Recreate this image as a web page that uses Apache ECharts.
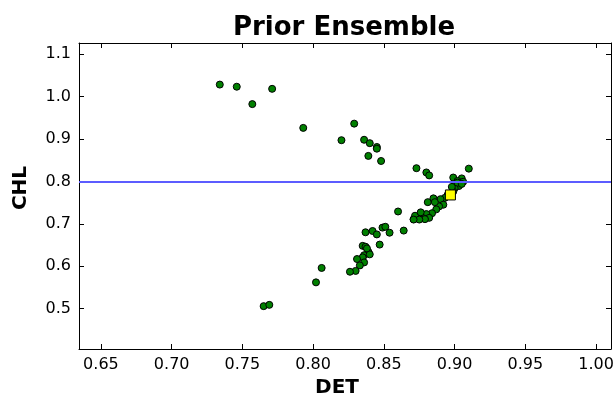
<!DOCTYPE html>
<html>
<head>
<meta charset="utf-8">
<script src="https://cdn.jsdelivr.net/npm/echarts@6/dist/echarts.min.js"></script>
<style>html,body{margin:0;padding:0;background:#fff}#c{width:616px;height:396px}</style>
</head>
<body>
<div id="c"></div>
<script>
var titleText = 'Prior Ensemble';
var xName = 'DET';
var yName = 'CHL';
var xMin = 0.6345, xMax = 1.0105;
var yMin = 0.405, yMax = 1.126;
var refChl = 0.796;
var meanDet = [0.897];
var meanChl = [0.768];
var det = [0.734,0.746,0.757,0.771,0.793,0.820,0.829,0.836,0.840,0.845,0.845,0.839,0.848,0.873,0.880,0.882,0.910,0.899,0.905,0.902,0.906,0.900,0.903,0.900,0.899,0.895,0.893,0.890,0.892,0.889,0.887,0.884,0.880,0.878,0.875,0.871,0.872,0.881,0.885,0.886,0.860,0.876,0.882,0.864,0.837,0.842,0.845,0.849,0.851,0.854,0.835,0.837,0.847,0.839,0.836,0.835,0.840,0.831,0.836,0.833,0.830,0.826,0.806,0.802,0.765,0.769,0.838,0.902,0.905,0.898,0.879,0.875,0.871];
var chl = [1.028,1.023,0.982,1.018,0.926,0.897,0.936,0.898,0.890,0.881,0.877,0.860,0.848,0.831,0.821,0.814,0.830,0.809,0.807,0.801,0.799,0.792,0.789,0.784,0.776,0.768,0.761,0.758,0.745,0.741,0.734,0.725,0.723,0.713,0.712,0.711,0.719,0.751,0.760,0.751,0.729,0.727,0.714,0.684,0.680,0.683,0.675,0.691,0.693,0.679,0.648,0.646,0.651,0.634,0.626,0.621,0.628,0.617,0.609,0.602,0.589,0.587,0.596,0.562,0.506,0.509,0.642,0.797,0.794,0.787,0.711,0.710,0.710];

var FONT = 'DejaVu Sans';
var pts = det.map(function(d,i){return [d, chl[i]];});
var meanPts = meanDet.map(function(d,i){return [d, meanChl[i]];});

function xAx(pos, show){
  return {type:'value', position:pos, min:xMin, max:xMax, splitNumber:7, scale:true,
    name: show ? xName : '', nameLocation:'middle', nameGap:28,
    nameTextStyle:{fontFamily:FONT,fontWeight:'bold',fontSize:20,color:'#000',padding:[0,16,0,0]},
    axisLine:{show:true,onZero:false,lineStyle:{color:'#000',width:1}},
    axisTick:{show:true,inside:true,length:5,lineStyle:{color:'#000'}},
    axisLabel:{show:show,showMinLabel:false,showMaxLabel:false,fontFamily:FONT,fontSize:16,color:'#000',margin:8,
      formatter:function(v){return v.toFixed(2);}},
    splitLine:{show:false}};
}
function yAx(pos, show){
  return {type:'value', position:pos, min:yMin, max:yMax, splitNumber:7, scale:true,
    name: show ? yName : '', nameLocation:'middle', nameGap:48,
    nameTextStyle:{fontFamily:FONT,fontWeight:'bold',fontSize:20,color:'#000',padding:[0,0,0,16]},
    axisLine:{show:true,onZero:false,lineStyle:{color:'#000',width:1}},
    axisTick:{show:true,inside:true,length:5,lineStyle:{color:'#000'}},
    axisLabel:{show:show,showMinLabel:false,showMaxLabel:false,fontFamily:FONT,fontSize:16,color:'#000',margin:8,
      formatter:function(v){return v.toFixed(1);}},
    splitLine:{show:false}};
}

var chart = echarts.init(document.getElementById('c'), null, {renderer:'canvas'});
chart.setOption({
  animation:false,
  backgroundColor:'#fff',
  title:{text:titleText, left:339, textAlign:'center', top:10,
    textStyle:{fontFamily:FONT,fontWeight:'bold',fontSize:26,color:'#000'}},
  grid:{left:79, right:5, top:43, bottom:47, containLabel:false, outerBoundsMode:'none'},
  xAxis:[xAx('bottom',true), xAx('top',false)],
  yAxis:[yAx('left',true), yAx('right',false)],
  series:[
    {type:'scatter', data:pts, symbol:'circle', symbolSize:7, z:2,
      itemStyle:{color:'#008000', borderColor:'#000', borderWidth:1, opacity:1}},
    {type:'scatter', data:[], z:3,
      markLine:{silent:true, symbol:['none','none'], label:{show:false},
        lineStyle:{color:'#5c5cff', width:2, type:'solid'},
        data:[{yAxis:refChl}]}},
    {type:'scatter', data:meanPts, symbol:'rect', symbolSize:10, z:4,
      itemStyle:{color:'#ffff00', borderColor:'#000', borderWidth:1, opacity:1}}
  ]
});
</script>
</body>
</html>
